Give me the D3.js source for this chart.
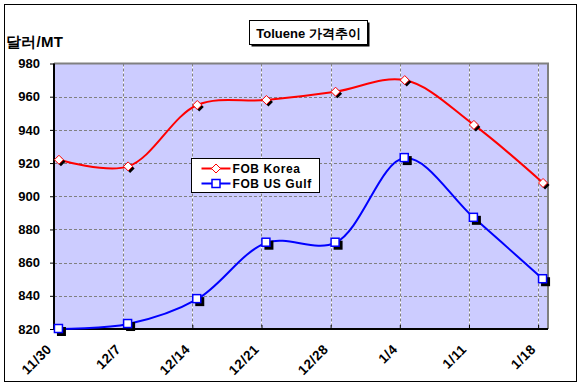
<!DOCTYPE html>
<html>
<head>
<meta charset="utf-8">
<script src="https://cdn.jsdelivr.net/npm/d3@7"></script>
<style>
  body { margin: 0; background: #fff; }
  svg { display: block; }
  text { font-family: Arial, "Liberation Sans", sans-serif; font-weight: bold; }
</style>
</head>
<body>
<svg id="chart" width="582" height="389"></svg>
<script>
// ---- data ----
const dates = ["2009-11-30", "2009-12-07", "2009-12-14", "2009-12-21", "2009-12-28", "2010-01-04", "2010-01-11", "2010-01-18"];
const korea = [922, 918, 955, 958, 963, 970, 943, 908];
const usGulf = [820, 823, 838, 872, 872, 923, 887, 850];
const yTicks = [820, 840, 860, 880, 900, 920, 940, 960, 980];
const seriesNames = ["FOB Korea", "FOB US Gulf"];
const title = "Toluene 가격추이";
const yUnit = "달러/MT";

const parse = d3.timeParse("%Y-%m-%d");
const dateObjs = dates.map(parse);

const svg = d3.select("#chart");

// outer frame
svg.append("rect").attr("x", 4.5).attr("y", 4.5).attr("width", 572).attr("height", 377)
  .attr("fill", "#fff").attr("stroke", "#000").attr("stroke-width", 1);

const plot = { left: 54, right: 548, top: 63.5, bottom: 329 };

const x = d3.scaleTime()
  .domain([dateObjs[0], d3.timeDay.offset(dateObjs[dateObjs.length - 1], 1)])
  .range([plot.left, plot.right]);
const y = d3.scaleLinear().domain([820, 980]).range([plot.bottom, plot.top]);
const xPos = d => x(d3.timeHour.offset(d, 12));

// plot background
svg.append("rect").attr("x", plot.left).attr("y", plot.top)
  .attr("width", plot.right - plot.left).attr("height", plot.bottom - plot.top)
  .attr("fill", "#CCCCFF");

// horizontal gridlines
svg.append("g").selectAll("line").data(yTicks.slice(1, -1)).join("line")
  .attr("x1", plot.left).attr("x2", plot.right)
  .attr("y1", d => Math.round(y(d)) + 0.5).attr("y2", d => Math.round(y(d)) + 0.5)
  .attr("stroke", "#808080").attr("stroke-dasharray", "3,2");

// vertical gridlines
const xTickDates = dateObjs.slice(1);
const vg = svg.append("g");
vg.selectAll("line.w").data(xTickDates).join("line").attr("class", "w")
  .attr("x1", d => Math.round(x(d)) + 0.5).attr("x2", d => Math.round(x(d)) + 0.5)
  .attr("y1", plot.top).attr("y2", plot.bottom)
  .attr("stroke", "#ffffff");
vg.selectAll("line.g").data(xTickDates).join("line").attr("class", "g")
  .attr("x1", d => Math.round(x(d)) + 0.5).attr("x2", d => Math.round(x(d)) + 0.5)
  .attr("y1", plot.top).attr("y2", plot.bottom)
  .attr("stroke", "#808080").attr("stroke-dasharray", "3,2");

// plot border: top/right grey, left/bottom black
svg.append("line").attr("x1", plot.left).attr("x2", plot.right + 1).attr("y1", plot.top).attr("y2", plot.top)
  .attr("stroke", "#808080").attr("stroke-width", 2);
svg.append("line").attr("x1", plot.right).attr("x2", plot.right).attr("y1", plot.top).attr("y2", plot.bottom)
  .attr("stroke", "#808080").attr("stroke-width", 2);

// axes
const yAxis = d3.axisLeft(y).tickValues(yTicks).tickSize(4).tickFormat(d3.format("d"));
const gy = svg.append("g").attr("transform", `translate(${plot.left},0)`).call(yAxis);
gy.select(".domain").attr("stroke", "#000").attr("stroke-width", 2).attr("d", `M0,${plot.top}V${plot.bottom}`);
gy.selectAll(".tick line").attr("stroke", "#000");
gy.selectAll(".tick text").attr("x", -14).attr("font-size", 13).attr("font-family", "Arial, 'Liberation Sans', sans-serif").attr("fill", "#000");

const xAxis = d3.axisBottom(x).tickValues(dateObjs).tickSize(-4).tickFormat(d3.timeFormat("%-m/%-d"));
const gx = svg.append("g").attr("transform", `translate(0,${plot.bottom})`).call(xAxis);
gx.select(".domain").attr("stroke", "#000").attr("stroke-width", 2).attr("d", `M${plot.left - 1},0H${plot.right}`);
gx.selectAll(".tick line").attr("stroke", "#000");
gx.selectAll(".tick text")
  .attr("font-size", 13.5).attr("letter-spacing", "0.5px").attr("font-family", "Arial, 'Liberation Sans', sans-serif").attr("fill", "#000")
  .attr("text-anchor", "end").attr("dy", null).attr("y", 0)
  .attr("transform", "translate(-2,21) rotate(-45)");

// lines
const line = d3.line().curve(d3.curveCatmullRom.alpha(0.5))
  .x((d, i) => xPos(dateObjs[i])).y(d => y(d));
svg.append("path").datum(korea).attr("d", line).attr("fill", "none").attr("stroke", "#FF0000").attr("stroke-width", 2);
svg.append("path").datum(usGulf).attr("d", line).attr("fill", "none").attr("stroke", "#0000FF").attr("stroke-width", 2);

// markers
const diamond = (cx, cy, r) => `M${cx},${cy - r}L${cx + r},${cy}L${cx},${cy + r}L${cx - r},${cy}Z`;
const km = svg.append("g");
km.selectAll("path.s").data(korea).join("path").attr("class", "s")
  .attr("d", (d, i) => diamond(xPos(dateObjs[i]) + 2, y(d) + 2, 4.5)).attr("fill", "#000");
km.selectAll("path.m").data(korea).join("path").attr("class", "m")
  .attr("d", (d, i) => diamond(xPos(dateObjs[i]), y(d), 4.5)).attr("fill", "#fff").attr("stroke", "#FF0000").attr("stroke-width", 1);

const um = svg.append("g");
um.selectAll("rect.s").data(usGulf).join("rect").attr("class", "s")
  .attr("x", (d, i) => xPos(dateObjs[i]) - 4 + 2).attr("y", d => y(d) - 4 + 2)
  .attr("width", 9).attr("height", 9).attr("fill", "#000");
um.selectAll("rect.m").data(usGulf).join("rect").attr("class", "m")
  .attr("x", (d, i) => xPos(dateObjs[i]) - 4.5).attr("y", d => y(d) - 4.5)
  .attr("width", 8).attr("height", 8).attr("fill", "#fff").attr("stroke", "#0000FF").attr("stroke-width", 1.5);

// legend
const lg = svg.append("g").attr("transform", "translate(191.5,158.5)");
lg.append("rect").attr("width", 128).attr("height", 34).attr("fill", "#fff").attr("stroke", "#000");
const colors = ["#FF0000", "#0000FF"];
seriesNames.forEach((name, i) => {
  const cy = 10 + i * 15;
  lg.append("line").attr("x1", 10).attr("x2", 39).attr("y1", cy).attr("y2", cy).attr("stroke", colors[i]).attr("stroke-width", 2);
  if (i === 0) {
    lg.append("path").attr("d", diamond(24.5, cy, 4.5)).attr("fill", "#fff").attr("stroke", colors[i]);
  } else {
    lg.append("rect").attr("x", 20.5).attr("y", cy - 4).attr("width", 8).attr("height", 8).attr("fill", "#fff").attr("stroke", colors[i]).attr("stroke-width", 1.5);
  }
  lg.append("text").attr("x", 41).attr("y", cy + 4.5).attr("font-size", 12).attr("letter-spacing", "0.6px").text(name);
});

// title box
const tg = svg.append("g").attr("transform", "translate(249.5,20.5)");
tg.append("rect").attr("x", 2).attr("y", 2).attr("width", 118).attr("height", 24).attr("fill", "#000");
tg.append("rect").attr("width", 118).attr("height", 24).attr("fill", "#fff").attr("stroke", "#000");
tg.append("text").attr("x", 59).attr("y", 17).attr("text-anchor", "middle").attr("font-size", 13).text(title);

// y unit label
svg.append("text").attr("x", 6).attr("y", 47).attr("font-size", 15).attr("letter-spacing", "0.3px").text(yUnit);
</script>
</body>
</html>
